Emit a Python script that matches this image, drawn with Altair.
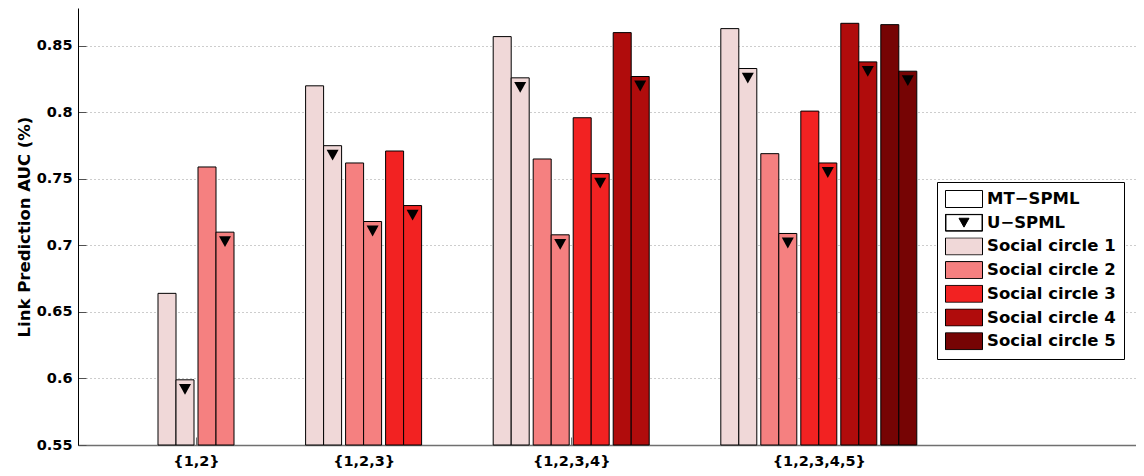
import altair as alt
import pandas as pd

# ---------------- data ----------------
GROUPS = ["{1,2}", "{1,2,3}", "{1,2,3,4}", "{1,2,3,4,5}"]
CIRCLES = ["Social circle 1", "Social circle 2", "Social circle 3",
           "Social circle 4", "Social circle 5"]
METHODS = ["MT\u2212SPML", "U\u2212SPML"]

MT_SPML = [
    [0.664, 0.759],
    [0.820, 0.762, 0.771],
    [0.857, 0.765, 0.796, 0.860],
    [0.863, 0.769, 0.801, 0.867, 0.866],
]
U_SPML = [
    [0.599, 0.710],
    [0.775, 0.718, 0.730],
    [0.826, 0.708, 0.754, 0.827],
    [0.833, 0.709, 0.762, 0.838, 0.831],
]
Y_TICKS = [0.55, 0.6, 0.65, 0.7, 0.75, 0.8, 0.85]

# ---------------- style / layout ----------------
PALETTE = ["#f0d8d8", "#f58080", "#f22222", "#b00c0c", "#760404"]
FONT = "DejaVu Sans"
TICK_FS = 14.5
TITLE_FS = 16.5
LEG_FS = 16.5
Y_MIN, Y_MAX = 0.55, 0.8785
X_MAX = 26.45          # x scale unit = one pair of bars
START = 2.45           # centre of first pair
GROUP_GAP = 2.69       # from last pair of a group to first pair of next
BAR_W = 0.45

rows = []
centers = []
p = START
for g, (mt, u) in enumerate(zip(MT_SPML, U_SPML)):
    k = len(mt)
    centers.append(round(p + (k - 1) / 2, 4))
    for i in range(k):
        c = p + i
        rows.append(dict(group=GROUPS[g], circle=CIRCLES[i], method=METHODS[0],
                         value=mt[i], x0=c - BAR_W, x1=c, xm=c - BAR_W / 2, base=Y_MIN))
        rows.append(dict(group=GROUPS[g], circle=CIRCLES[i], method=METHODS[1],
                         value=u[i], x0=c, x1=c + BAR_W, xm=c + BAR_W / 2, base=Y_MIN))
    p += (k - 1) + GROUP_GAP
df = pd.DataFrame(rows)

label_expr = "''"
for c, g in reversed(list(zip(centers, GROUPS))):
    label_expr = f"abs(datum.value - {c}) < 0.01 ? '{g}' : ({label_expr})"

xs = alt.Scale(domain=[0, X_MAX], nice=False, zero=False)
ys = alt.Scale(domain=[Y_MIN, Y_MAX], nice=False, zero=False)

# inward tick marks (MATLAB style)
ticks_layer = alt.Chart(df).mark_point(opacity=0).encode(
    x=alt.X("xm:Q", scale=xs, axis=alt.Axis(
        orient="bottom", offset=-8, tickSize=8, values=centers, labels=False,
        domain=False, grid=False, tickColor="#707070", tickWidth=1, title=None)),
    y=alt.Y("value:Q", scale=ys, axis=alt.Axis(
        orient="left", offset=-8, tickSize=8, values=Y_TICKS, labels=False,
        domain=False, grid=False, tickColor="#505050", tickWidth=1, title=None)),
)

bars = alt.Chart(df).mark_bar(stroke="black", strokeWidth=1, opacity=1).encode(
    x=alt.X("x0:Q", scale=xs, axis=alt.Axis(
        orient="bottom", values=centers, labelExpr=label_expr, ticks=False, grid=False,
        domainColor="#707070", domainWidth=1.5, labelPadding=9, labelFont=FONT,
        labelFontSize=TICK_FS, labelFontWeight="bold", labelColor="black", title=None)),
    x2="x1:Q",
    y=alt.Y("value:Q", scale=ys, axis=alt.Axis(
        orient="left", values=Y_TICKS, format=".2~f", ticks=False, grid=True,
        gridDash=[1, 3], gridColor="#9a9a9a", gridWidth=1, domainColor="black",
        domainWidth=1, labelPadding=6, labelFont=FONT, labelFontSize=TICK_FS,
        labelFontWeight="bold", labelColor="black",
        title="Link Prediction AUC (%)", titleFont=FONT, titleFontSize=TITLE_FS,
        titleFontWeight="bold", titleColor="black", titlePadding=4)),
    y2="base:Q",
    color=alt.Color("circle:N", scale=alt.Scale(domain=CIRCLES, range=PALETTE), legend=None),
)

TRI_PATH = "M-1,-0.9L1,-0.9L0,0.9Z"
tri = alt.Chart(df).transform_filter(
    alt.datum.method == METHODS[1]
).mark_point(shape=TRI_PATH, filled=True, color="black", size=144, opacity=1,
             yOffset=9.5, strokeWidth=0).encode(
    x=alt.X("xm:Q", scale=xs, axis=None),
    y=alt.Y("value:Q", scale=ys, axis=None),
)

# legend
LEGEND_LABELS = METHODS + CIRCLES
RECT = "M-1,-0.46H1V0.46H-1Z"
U_SYM = "M-1,-0.46H1V0.46H-1Z M-0.975,-0.435V0.435H0.975V-0.435Z M-0.27,-0.24H0.27L0,0.24Z"
LEGEND_FILLS = ["white", "black"] + PALETTE
LEGEND_STROKES = ["black"] * len(LEGEND_LABELS)
LEGEND_SHAPES = [RECT, U_SYM] + [RECT] * len(CIRCLES)

def make_legend():
    return alt.Legend(
        title=None, orient="none", legendX=859, legendY=174, padding=8,
        strokeColor="black", fillColor="white", cornerRadius=0,
        labelFont=FONT, labelFontSize=LEG_FS, labelFontWeight="bold", labelColor="black",
        labelLimit=400, labelOffset=4, symbolSize=1369, clipHeight=18, rowPadding=5.7,
        symbolStrokeWidth=1, symbolOpacity=1,
    )

legend_layer = alt.Chart(pd.DataFrame({"entry": LEGEND_LABELS})).transform_filter(
    "false"
).mark_point(filled=True, opacity=1, strokeWidth=1).encode(
    fill=alt.Fill("entry:N", scale=alt.Scale(domain=LEGEND_LABELS, range=LEGEND_FILLS),
                  legend=make_legend()),
    stroke=alt.Stroke("entry:N", scale=alt.Scale(domain=LEGEND_LABELS, range=LEGEND_STROKES),
                      legend=make_legend()),
    shape=alt.Shape("entry:N", scale=alt.Scale(domain=LEGEND_LABELS, range=LEGEND_SHAPES),
                    legend=make_legend()),
)

chart = alt.layer(ticks_layer, bars, tri, legend_layer).resolve_axis(
    x="independent", y="independent"
).properties(
    width=1058, height=437,
    padding={"left": 70, "top": 0, "right": 0, "bottom": 23},
    autosize=alt.AutoSizeParams(type="none"),
    background="white",
).configure_view(stroke=None)

chart.save("out.html", embed_options={"renderer": "svg", "actions": False})
